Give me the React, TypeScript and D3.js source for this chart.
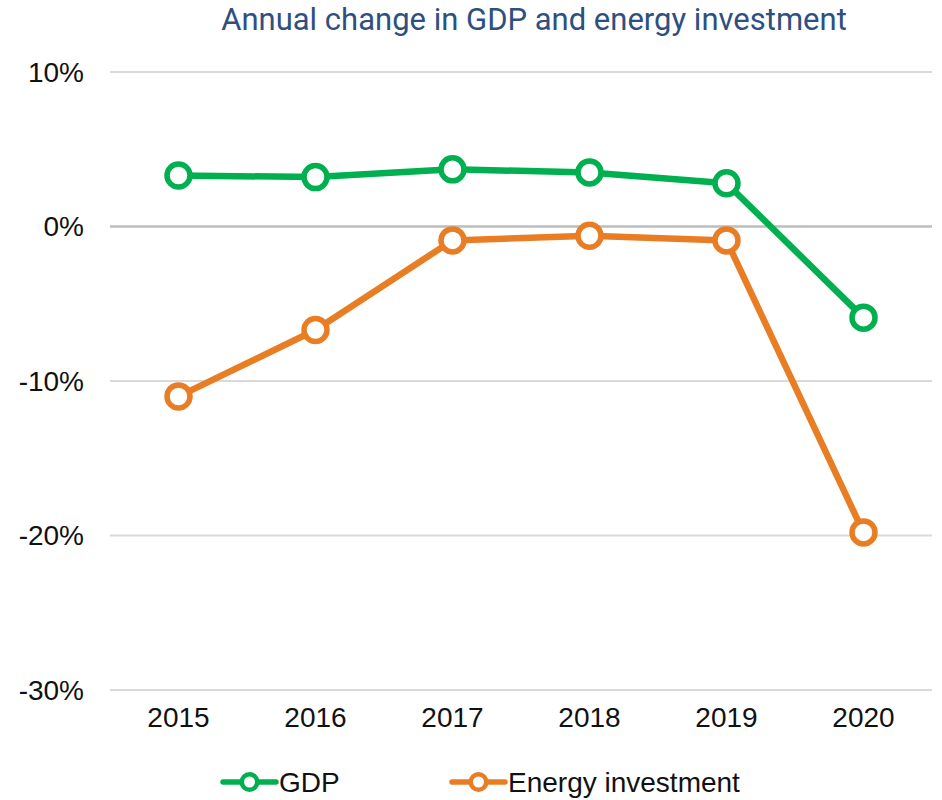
import React, { useEffect, useRef } from 'react';
import * as d3 from 'd3';

// data
const years = ['2015', '2016', '2017', '2018', '2019', '2020'];
const gdp = [3.3, 3.2, 3.7, 3.5, 2.8, -5.9];
const energyInvestment = [-11.0, -6.7, -0.9, -0.6, -0.9, -19.8];
const yTicks = [10, 0, -10, -20, -30];

const W = 942;
const H = 800;

const App = () => {
  const ref = useRef<SVGSVGElement>(null);

  useEffect(() => {
    const svg = d3.select(ref.current);
    svg.selectAll('*').remove();

    // plot area
    const left = 110, right = 932, top = 72, bottom = 690;

    const x = d3.scaleBand().domain(years).range([left, right]);
    const y = d3.scaleLinear().domain([-30, 10]).range([bottom, top]);

    const labelFont = 'Liberation Sans, Arial, sans-serif';

    // title
    svg.append('text')
      .attr('x', 534)
      .attr('y', 30)
      .attr('text-anchor', 'middle')
      .attr('font-family', 'Roboto, sans-serif')
      .attr('font-size', 31)
      .attr('fill', '#2f4f7f')
      .text('Annual change in GDP and energy investment');

    // gridlines
    svg.append('g')
      .selectAll('line')
      .data(yTicks)
      .join('line')
      .attr('x1', left)
      .attr('x2', right)
      .attr('y1', d => y(d))
      .attr('y2', d => y(d))
      .attr('stroke', d => (d === 0 ? '#bdbdbd' : '#d9d9d9'))
      .attr('stroke-width', d => (d === 0 ? 2.5 : 2));

    // y labels
    svg.append('g')
      .selectAll('text')
      .data(yTicks)
      .join('text')
      .attr('x', 84)
      .attr('y', d => y(d))
      .attr('dy', '0.35em')
      .attr('text-anchor', 'end')
      .attr('font-family', labelFont)
      .attr('font-size', 28)
      .attr('fill', '#111')
      .text(d => `${d}%`);

    // x labels
    svg.append('g')
      .selectAll('text')
      .data(years)
      .join('text')
      .attr('x', d => x(d)! + x.bandwidth() / 2)
      .attr('y', 727)
      .attr('text-anchor', 'middle')
      .attr('font-family', labelFont)
      .attr('font-size', 28)
      .attr('fill', '#111')
      .text(d => d);

    const series = [
      { name: 'GDP', values: gdp, color: '#00b050' },
      { name: 'Energy investment', values: energyInvestment, color: '#e97d24' },
    ];

    const line = d3.line<number>()
      .x((_, i) => x(years[i])! + x.bandwidth() / 2)
      .y(d => y(d));

    series.forEach(s => {
      svg.append('path')
        .datum(s.values)
        .attr('d', line)
        .attr('fill', 'none')
        .attr('stroke', s.color)
        .attr('stroke-width', 6.5)
        .attr('stroke-linejoin', 'round');

      svg.append('g')
        .selectAll('circle')
        .data(s.values)
        .join('circle')
        .attr('cx', (_, i) => x(years[i])! + x.bandwidth() / 2)
        .attr('cy', d => y(d))
        .attr('r', 11.5)
        .attr('fill', '#fff')
        .attr('stroke', s.color)
        .attr('stroke-width', 5.5);
    });

    // legend
    const legendItems = [
      { name: 'GDP', color: '#00b050', x0: 223 },
      { name: 'Energy investment', color: '#e97d24', x0: 452 },
    ];
    const ly = 782;
    legendItems.forEach(item => {
      const g = svg.append('g');
      g.append('line')
        .attr('x1', item.x0)
        .attr('x2', item.x0 + 53)
        .attr('y1', ly)
        .attr('y2', ly)
        .attr('stroke', item.color)
        .attr('stroke-width', 5.5)
        .attr('stroke-linecap', 'round');
      g.append('circle')
        .attr('cx', item.x0 + 26.5)
        .attr('cy', ly)
        .attr('r', 7.75)
        .attr('fill', '#fff')
        .attr('stroke', item.color)
        .attr('stroke-width', 4.5);
      g.append('text')
        .attr('x', item.x0 + 56)
        .attr('y', ly)
        .attr('dy', '0.35em')
        .attr('font-family', labelFont)
        .attr('font-size', 28)
        .attr('fill', '#111')
        .text(item.name);
    });
  }, []);

  return (
    <svg
      ref={ref}
      width={W}
      height={H}
      style={{ position: 'absolute', left: 0, top: 0, background: '#fff' }}
    />
  );
};

export default App;
